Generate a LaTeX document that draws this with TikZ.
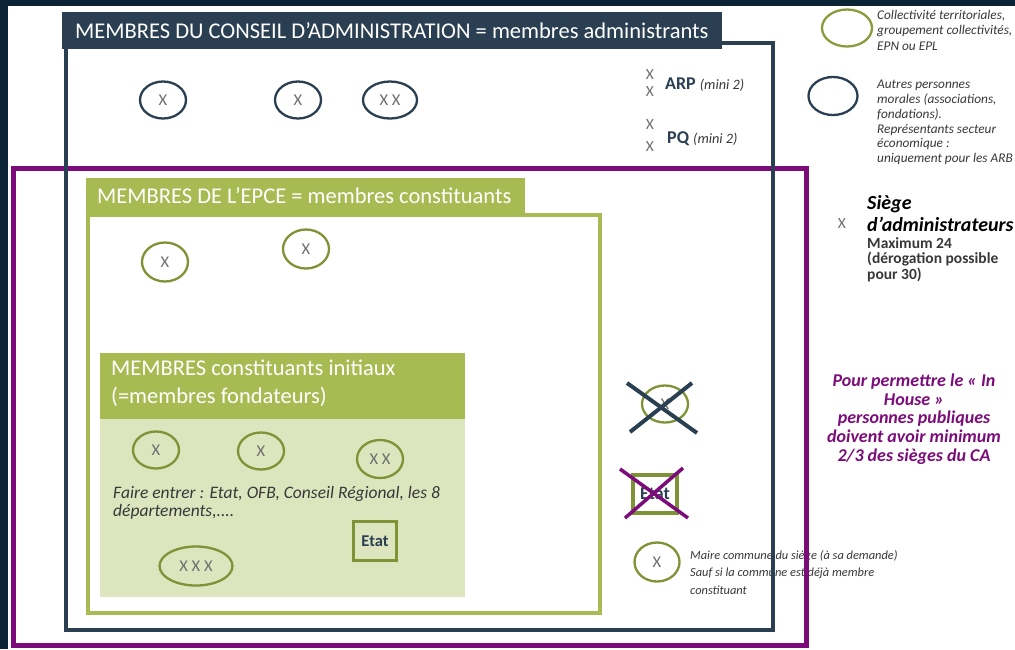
\documentclass[tikz,border=0pt]{standalone}
\usepackage{fontspec}
\setmainfont{Carlito}
\usetikzlibrary{shapes.geometric,calc,positioning}

\definecolor{bgnavy}{HTML}{0B2335}
\definecolor{canavy}{HTML}{2B3F52}
\definecolor{epcegreen}{HTML}{A8BB52}
\definecolor{initfill}{HTML}{DCE5BE}
\definecolor{olive}{HTML}{7E9336}
\definecolor{legolive}{HTML}{8C9A3E}
\definecolor{violet}{HTML}{7B0C7A}
\definecolor{xgrey}{HTML}{6E6E6E}
\definecolor{txtgrey}{HTML}{383838}

\tikzset{
  seat/.style={ellipse, draw, line width=2.3pt, minimum width=46pt, minimum height=37pt,
    inner sep=0pt, text=xgrey, font=\fontsize{16.5}{16.5}\selectfont},
  caseat/.style={seat, draw=canavy},
  ctseat/.style={seat, draw=olive},
  seatmark/.style={text=xgrey, inner sep=0pt, font=\fontsize{15.5}{15.5}\selectfont},
  titletext/.style={anchor=west, text=white, inner sep=0pt, font=\fontsize{22.5}{28}\selectfont},
  legendtxt/.style={anchor=north west, align=left, inner sep=0pt, text=txtgrey,
    font=\fontsize{13.3}{14.8}\selectfont\itshape},
  etatbox/.style={rectangle, draw=olive, line width=3pt, minimum width=43pt, minimum height=39pt,
    inner sep=0pt, text=canavy, font=\fontsize{16.5}{16.5}\selectfont\bfseries},
}

\begin{document}
\begin{tikzpicture}[x=1pt,y=-1pt]
\useasboundingbox (0,0) rectangle (1015,649);
\fill[bgnavy] (0,0) rectangle (1015,649);
\fill[white] (8,6) rectangle (1015,649);

% legende
\node[seat, draw=legolive, minimum width=50pt] (legct) at (847,28) {};
\node[legendtxt, font=\fontsize{13.3}{15.5}\selectfont\itshape] (legcttxt) at (877,10)
  {Collectivité territoriales,\\groupement collectivités,\\EPN ou EPL};
\node[seat, draw=canavy, minimum width=49pt, minimum height=38pt] (legca) at (833,96) {};
\node[legendtxt] (legcatxt) at (877,80) {Autres personnes\\morales (associations,\\fondations).\\Représentants secteur\\économique :\\uniquement pour les ARB};

\node[seatmark] (legx) at (842,224) {X};
\node[anchor=north west, align=left, inner sep=0pt, text=black,
  font=\fontsize{20}{22}\selectfont\bfseries\itshape] (siegetitle) at (867,195) {Siège\\d’administrateurs};
\node[anchor=north west, align=left, inner sep=0pt, text=txtgrey,
  font=\fontsize{15.5}{15.8}\selectfont\bfseries] (siegemax) at (867,237) {Maximum 24\\(dérogation possible\\pour 30)};

\node[align=center, inner sep=0pt, text=violet,
  font=\fontsize{18}{18.8}\selectfont\bfseries\itshape] (inhouse) at (914,419)
  {Pour permettre le « In\\House »\\personnes publiques\\doivent avoir minimum\\2/3 des sièges du CA};

% ARP et PQ
\node[seatmark] (arpx1) at (650,75) {X};
\node[seatmark] (arpx2) at (650,92) {X};
\node[anchor=west, inner sep=0pt, text=canavy, font=\fontsize{18}{18}\selectfont\bfseries] (arp) at (665,85)
  {ARP {\fontsize{14.3}{14}\selectfont\mdseries\itshape\color{txtgrey}(mini 2)}};
\node[seatmark] (pqx1) at (650,125) {X};
\node[seatmark] (pqx2) at (650,147) {X};
\node[anchor=west, inner sep=0pt, text=canavy, font=\fontsize{18}{18}\selectfont\bfseries] (pq) at (667,139)
  {PQ {\fontsize{14.3}{14}\selectfont\mdseries\itshape\color{txtgrey}(mini 2)}};

% maire
\node[legendtxt, font=\fontsize{12.4}{17.5}\selectfont\itshape] (mairetxt) at (690,550)
  {Maire commune du siège (à sa demande)\\Sauf si la commune est déjà membre\\constituant};

% cadres
\draw[violet, line width=5pt] (13,168) rectangle (806,645);
\draw[canavy, line width=4pt] (66,43) rectangle (773,630);
\fill[canavy] (62,12) rectangle (722,49);
\node[titletext] (catitle) at (75,31) {MEMBRES DU CONSEIL D’ADMINISTRATION = membres administrants};

\draw[epcegreen, line width=3.5pt] (88,215) rectangle (600,613);
\fill[epcegreen] (86,178) rectangle (525,215);
\node[titletext] (epcetitle) at (97,196) {MEMBRES DE L’EPCE = membres constituants};

\fill[initfill] (100,419) rectangle (465,597);
\fill[epcegreen] (100,353) rectangle (465,419);
\node[titletext, anchor=north west, align=left] (inittitle) at (111,360) {MEMBRES constituants initiaux\\(=membres fondateurs)};

% sieges CA
\node[caseat] (ca1) at (163,100) {X};
\node[caseat] (ca2) at (298,100) {X};
\node[caseat, minimum width=54pt] (ca3) at (390,100) {X X};

% sieges EPCE
\node[ctseat, minimum height=39pt] (ct1) at (165,262) {X};
\node[ctseat, minimum height=39pt] (ct2) at (306,249) {X};

% sieges initiaux
\node[ctseat] (in1) at (156,450) {X};
\node[ctseat] (in2) at (261,451) {X};
\node[ctseat, minimum height=38pt] (in3) at (380,459) {X X};
\node[ctseat, minimum width=73pt, minimum height=39pt] (in4) at (196,566) {X X X};
\node[anchor=north west, align=left, inner sep=0pt, text=txtgrey,
  font=\fontsize{17.5}{18.5}\selectfont\itshape] (faire) at (113,486)
  {Faire entrer : Etat, OFB, Conseil Régional, les 8\\départements,....};
\node[etatbox] (etat) at (375,541) {Etat};

% barres
\node[ctseat] (crossed) at (665,404) {X};
\draw[canavy, line width=4pt] ($(crossed)+(-38,-21)$) -- ($(crossed)+(32,29)$);
\draw[canavy, line width=4pt] ($(crossed)+(27,-21)$) -- ($(crossed)+(-35,28)$);
\node[etatbox, line width=3.5pt, minimum width=44pt, minimum height=38pt,
  font=\fontsize{18}{18}\selectfont\bfseries] (etatx) at (655,494) {Etat};
\draw[violet, line width=3.5pt] ($(etatx)+(-35,-25)$) -- ($(etatx)+(33,24)$);
\draw[violet, line width=3.5pt] ($(etatx)+(28,-26)$) -- ($(etatx)+(-30,24)$);

\node[ctseat, minimum width=45pt, minimum height=39pt] (maire) at (657,562) {X};
\end{tikzpicture}
\end{document}
